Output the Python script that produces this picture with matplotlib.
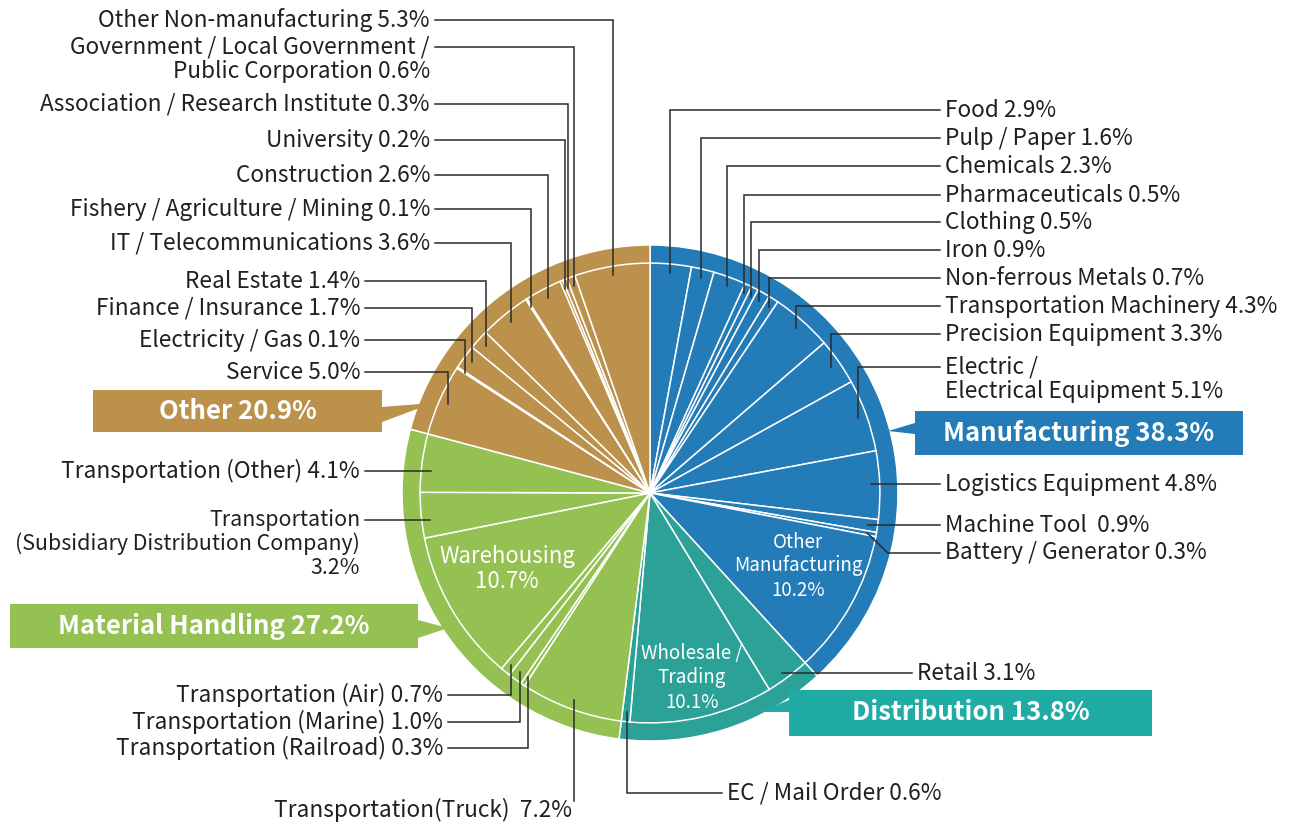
import matplotlib.pyplot as plt
import numpy as np
from matplotlib.patches import Polygon

W, H = 1300, 823

group_names = ["Manufacturing", "Distribution", "Material Handling", "Other"]
group_shares = [38.3, 13.8, 27.2, 20.9]
group_colors = ["#237bb8", "#2ba198", "#94c152", "#bb914c"]
box_colors = ["#237bb8", "#20aca5", "#94c152", "#bb914c"]

manufacturing_names = ["Food", "Pulp / Paper", "Chemicals", "Pharmaceuticals", "Clothing",
                       "Iron", "Non-ferrous Metals", "Transportation Machinery",
                       "Precision Equipment", "Electric /\nElectrical Equipment",
                       "Logistics Equipment", "Machine Tool ", "Battery / Generator",
                       "Other\nManufacturing"]
manufacturing_shares = [2.9, 1.6, 2.3, 0.5, 0.5, 0.9, 0.7, 4.3, 3.3, 5.1, 4.8, 0.9, 0.3, 10.2]

distribution_names = ["Retail", "Wholesale /\nTrading", "EC / Mail Order"]
distribution_shares = [3.1, 10.1, 0.6]

handling_names = ["Transportation(Truck) ", "Transportation (Railroad)", "Transportation (Marine)",
                  "Transportation (Air)", "Warehousing",
                  "Transportation\n(Subsidiary Distribution Company)\n", "Transportation (Other)"]
handling_shares = [7.2, 0.3, 1.0, 0.7, 10.7, 3.2, 4.1]

other_names = ["Service", "Electricity / Gas", "Finance / Insurance", "Real Estate",
               "IT / Telecommunications", "Fishery / Agriculture / Mining", "Construction",
               "University", "Association / Research Institute",
               "Government / Local Government /\nPublic Corporation", "Other Non-manufacturing"]
other_shares = [5.0, 0.1, 1.7, 1.4, 3.6, 0.1, 2.6, 0.2, 0.3, 0.6, 5.3]

FS = 16.3
# layout of the callouts, in pixels from the top-left corner (x, y, align, route, font size)
# route: v = vertical then horizontal, h = horizontal, d = diagonal, s = straight down,
# align "in" = label inside the slice
layout = [
    (945, 110, "left", "v", FS), (945, 138, "left", "v", FS), (945, 166, "left", "v", FS),
    (945, 195, "left", "v", FS), (945, 222, "left", "v", FS), (945, 250, "left", "v", FS),
    (945, 278, "left", "v", FS), (945, 306, "left", "v", FS), (945, 334, "left", "v", FS),
    (945, 367, "left", "v", FS), (945, 484, "left", "h", FS), (945, 525, "left", "h", FS),
    (945, 553, "left", "d", FS), (798, 542, "in", None, 13.5),
    (917, 673, "left", "h", FS), (692, 654, "in", None, 13.5), (727, 793, "left", "v", FS),
    (572, 810, "right", "s", FS), (443, 748, "right", "v", FS), (443, 722, "right", "v", FS),
    (443, 695, "right", "v", FS), (507, 557, "in", None, 16.0), (360, 520, "right", "h", 15.4),
    (360, 471, "right", "h", FS),
    (360, 372, "right", "v", FS), (360, 340, "right", "v", FS), (360, 308, "right", "v", FS),
    (360, 281, "right", "v", FS), (430, 243, "right", "v", FS), (430, 209, "right", "v", FS),
    (430, 175, "right", "v", FS), (430, 140, "right", "v", FS), (430, 104, "right", "v", FS),
    (430, 47, "right", "v", FS), (430, 20, "right", "v", FS),
]

# group boxes: (x0, y0, x1, y1), arrow base y-range on the side facing the pie, arrow tip
boxes = [
    ((915, 411, 1243, 455), (423, 434), (888, 431)),
    ((789, 690, 1152, 736), (700, 712), (760, 712)),
    ((10, 604, 418, 648), (620, 638), (448, 628)),
    ((93, 390, 382, 432), (407, 422), (433, 403)),
]

cx, cy, R = 650, 493, 248
inner_frac = 0.927
line_h = 24

plt.rcParams["font.family"] = ["Noto Sans CJK JP", "DejaVu Sans"]
text_color = "#231f20"
lead_color = "#2b2b2b"

fig = plt.figure(figsize=(W / 100, H / 100), dpi=100)
ax = fig.add_axes([0, 0, 1, 1])


def Y(y):
    return H - y


sub_names = manufacturing_names + distribution_names + handling_names + other_names
sub_shares = manufacturing_shares + distribution_shares + handling_shares + other_shares
group_sizes = [len(manufacturing_names), len(distribution_names), len(handling_names), len(other_names)]
sub_colors = []
for c, n in zip(group_colors, group_sizes):
    sub_colors += [c] * n

ax.pie(group_shares, colors=group_colors, radius=R, center=(cx, Y(cy)), startangle=90,
       counterclock=False, wedgeprops=dict(edgecolor="white", linewidth=1.1), frame=True)
wedges, _ = ax.pie(sub_shares, colors=sub_colors, radius=R * inner_frac, center=(cx, Y(cy)),
                   startangle=90, counterclock=False,
                   wedgeprops=dict(edgecolor="white", linewidth=1.1), frame=True)
ax.set_xlim(0, W)
ax.set_ylim(0, H)
ax.set_aspect("equal")
ax.axis("off")


def draw_lines(x, y, text, ha, color, size, weight="normal"):
    for i, line in enumerate(text.split("\n")):
        ax.text(x, Y(y + i * line_h), line, ha=ha, va="center", color=color,
                fontsize=size, fontweight=weight)


r_lead = R * 0.89
for w, name, share, (lx, ly, ha, route, size) in zip(wedges, sub_names, sub_shares, layout):
    if ha == "in":
        draw_lines(lx, ly, f"{name}\n{share}%", "center", "white", size)
        continue
    mid = np.deg2rad((w.theta1 + w.theta2) / 2)
    sx = cx + r_lead * np.cos(mid)
    sy = cy - r_lead * np.sin(mid)
    sep = "" if name.endswith("\n") else " "
    label = f"{name}{sep}{share}%"
    ex = lx - 5 if ha == "left" else lx + 5
    if route == "v":
        pts = [(sx, sy), (sx, ly), (ex, ly)]
    elif route == "h":
        pts = [(sx, ly), (ex, ly)]
    elif route == "d":
        pts = [(sx, sy), (ex - 52, ly), (ex, ly)]
    else:
        pts = [(sx, sy), (sx, ly - 9)]
    xs, ys = zip(*pts)
    ax.plot(xs, [Y(v) for v in ys], color=lead_color, lw=1.1, solid_joinstyle="miter")
    draw_lines(lx, ly, label, ha, text_color, size)

for name, share, color, ((x0, y0, x1, y1), (b0, b1), (tx, ty)) in zip(group_names, group_shares,
                                                                      box_colors, boxes):
    if tx < x0:
        pts = [(x0, y0), (x1, y0), (x1, y1), (x0, y1), (x0, b1), (tx, ty), (x0, b0)]
    else:
        pts = [(x0, y0), (x1, y0), (x1, b0), (tx, ty), (x1, b1), (x1, y1), (x0, y1)]
    ax.add_patch(Polygon([(px, Y(py)) for px, py in pts], closed=True, facecolor=color,
                         edgecolor="none", zorder=3))
    ax.text((x0 + x1) / 2, Y((y0 + y1) / 2), f"{name} {share}%", ha="center", va="center",
            color="white", fontsize=18.5, fontweight="bold", zorder=4)

fig.savefig("out.png", dpi=100)
